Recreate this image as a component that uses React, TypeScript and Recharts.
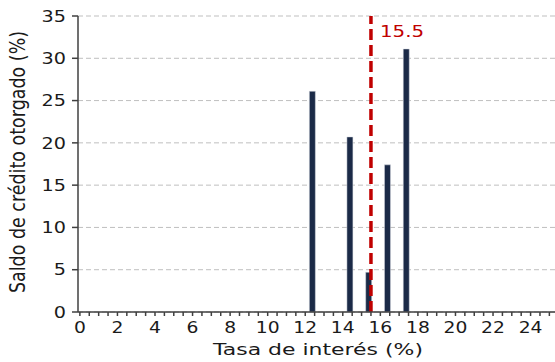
import React from 'react';
import { ComposedChart, Bar, XAxis, YAxis, CartesianGrid, ReferenceLine } from 'recharts';

// interest rate (%) and share of credit granted (%)
const rates = [12.4, 14.4, 15.4, 16.4, 17.4];
const shares = [26.1, 20.7, 4.7, 17.4, 31.1];
const yTicks = [0, 5, 10, 15, 20, 25, 30, 35];
const xLabels = [0, 2, 4, 6, 8, 10, 12, 14, 16, 18, 20, 22, 24];
const averageRate = 15.5;

const data = rates.map((r, i) => ({ rate: r, share: shares[i] }));

// minor tick marks every half point, labels only on the even ones
const xTicks: number[] = [];
for (let t = 0; t <= 25; t += 0.5) xTicks.push(t);

const FONT = 'DejaVu Sans, sans-serif';
const INK = '#1a1a1a';
const NAVY = '#1b2a47';
const RED = '#c00000';

// the source text is a bit wider than it is tall, so stretch it sideways
const XTick = (props: any) => {
  const { x, payload } = props;
  if (!xLabels.includes(payload.value)) return null;
  return (
    <text transform={`translate(${x},333) scale(1.25,1)`} textAnchor="middle" fill={INK} fontSize={15} fontFamily={FONT}>
      {payload.value}
    </text>
  );
};

const YTick = (props: any) => {
  const { y, payload } = props;
  return (
    <text transform={`translate(66,${y}) scale(1.2,1)`} dy="0.36em" textAnchor="end" fill={INK} fontSize={16} fontFamily={FONT}>
      {payload.value}
    </text>
  );
};

const App: React.FC = () => {
  return (
    <div style={{ position: 'absolute', left: 0, top: 0, width: 555, height: 362, background: '#fff' }}>
      <ComposedChart width={555} height={362} data={data} margin={{ top: 16, right: 0, left: 0, bottom: 0 }}>
        <CartesianGrid vertical={false} stroke="#bfbfbf" strokeDasharray="5 3" />
        <XAxis
          dataKey="rate"
          type="number"
          domain={[-0.1, 25.3]}
          ticks={xTicks}
          interval={0}
          allowDecimals
          height={50}
          tickSize={4}
          stroke="#404040"
          strokeWidth={1.5}
          tick={<XTick />}
          label={() => (
            <text transform="translate(318,355) scale(1.33,1)" textAnchor="middle" fill={INK} fontSize={16.5} fontFamily={FONT}>
              Tasa de interés (%)
            </text>
          )}
        />
        <YAxis
          type="number"
          domain={[0, 35]}
          ticks={yTicks}
          interval={0}
          width={78}
          tickSize={6}
          stroke="#404040"
          strokeWidth={1.5}
          tick={<YTick />}
          label={() => (
            <text transform="translate(25,162) scale(1.2,1) rotate(-90)" textAnchor="middle" fill={INK} fontSize={17.5} fontFamily={FONT}>
              Saldo de crédito otorgado (%)
            </text>
          )}
        />
        <Bar dataKey="share" fill={NAVY} stroke="#d9dde4" strokeWidth={0.5} barSize={6} isAnimationActive={false} />
        <ReferenceLine
          x={averageRate}
          stroke={RED}
          strokeWidth={3.5}
          strokeDasharray="11 5"
          label={(p: any) => (
            <text transform={`translate(${p.viewBox.x + 9},${p.viewBox.y + 21}) scale(1.2,1)`} fill={RED} fontSize={16.5} fontFamily={FONT}>
              {averageRate}
            </text>
          )}
        />
      </ComposedChart>
    </div>
  );
};

export default App;
